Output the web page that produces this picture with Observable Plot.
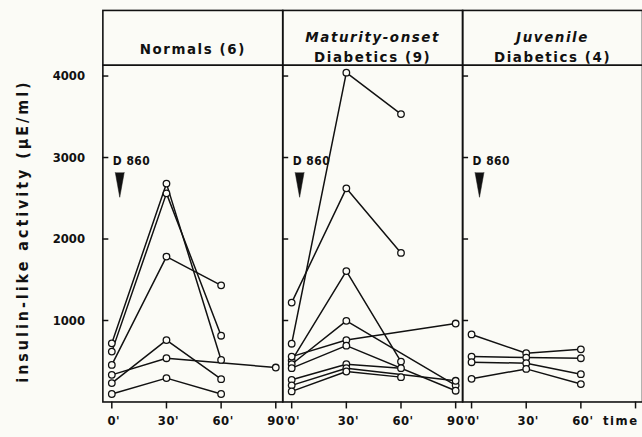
<!DOCTYPE html>
<html><head><meta charset="utf-8">
<script src="https://cdn.jsdelivr.net/npm/d3@7"></script>
<script src="https://cdn.jsdelivr.net/npm/@observablehq/plot@0.6"></script>
<style>
html,body{margin:0;padding:0;background:#fbfbf6;overflow:hidden}
svg text{font-family:"DejaVu Sans Condensed","Liberation Sans Narrow","DejaVu Sans",sans-serif;}
</style></head><body><div id="chart"></div>
<script>
// ---- data ----
const groups = ["Normals", "Maturity-onset", "Juvenile"];
const headerLine1 = ["Normals (6)", "Maturity-onset", "Juvenile"];
const headerLine2 = ["", "Diabetics (9)", "Diabetics (4)"];
const times = [0, 30, 60, 90];
const timeLabels = ["0'", "30'", "60'", "90'"];
const timeAxisLabel = "time";
const yTicks = [1000, 2000, 3000, 4000];
const yLabel = "insulin-like activity (µE/ml)";
const drugLabel = "D 860";
const drugTime = 0;
const drugLevel = 3000;
const headerBoundary = 4134; // top of the data area (header box below this is the frame)
// values per patient at 0', 30', 60', 90' (null = not measured)
const normals = [
  [720, 2680, 516, null],
  [618, 2560, 813, null],
  [455, 1784, 1431, null],
  [232, 760, 280, null],
  [333, 537, null, 423],
  [98, 293, 98, null]
];
const maturityOnset = [
  [715, 4041, 3533, null],
  [1220, 2622, 1829, null],
  [508, 1606, 496, null],
  [463, 996, null, 204],
  [557, 760, null, 963],
  [415, 691, null, 138],
  [272, 463, 415, null],
  [204, 415, null, 260],
  [130, 374, 305, null]
];
const juvenile = [
  [829, 598, 646, null],
  [557, 545, 537, null],
  [488, 476, 341, null],
  [284, 406, 220, null]
];

// ---- tables ----
const series = [normals, maturityOnset, juvenile];
const points = [];
series.forEach((pats, gi) => pats.forEach((vals, pi) => vals.forEach((v, ti) => {
  if (v != null) points.push({group: groups[gi], id: gi + "-" + pi, t: times[ti], v});
})));
const headers = groups.map((g, i) => ({group: g, l1: headerLine1[i], l2: headerLine2[i]}));
const xLabels = [];
groups.forEach((g, gi) => times.forEach((t, ti) => {
  if (!(gi === groups.length - 1 && ti === times.length - 1)) xLabels.push({group: g, t, label: timeLabels[ti]});
}));
const timeLabelRow = [{group: groups[groups.length - 1], t: times[times.length - 1], label: timeAxisLabel}];
const drug = groups.map(g => ({group: g, t: drugTime, v: drugLevel}));
const ink = "#111";
const bg = "#fbfbf6";

const chart = Plot.plot({
  width: 646,
  height: 437,
  marginLeft: 102,
  marginRight: 0,
  marginTop: 10,
  marginBottom: 33,
  style: {background: bg, color: ink, fontFamily: '"DejaVu Sans Condensed","Liberation Sans Narrow","DejaVu Sans",sans-serif'},
  fx: {domain: groups, padding: 0, axis: null, label: null},
  x: {domain: [0, 90], insetLeft: 9, insetRight: 7, axis: null},
  y: {domain: [0, 4805], axis: null},
  marks: [
    Plot.frame({stroke: ink, strokeWidth: 1.6}),
    Plot.ruleY([headerBoundary], {stroke: ink, strokeWidth: 1.6}),
    // y ticks inward in every panel
    Plot.axisY({ticks: yTicks, tickSize: -6, tickFormat: () => "", label: null, facetAnchor: null, strokeWidth: 1.5}),
    // y tick labels only on the left
    Plot.axisY({ticks: yTicks, tickSize: 0, tickPadding: 18, label: null, fontSize: 13, fontWeight: "bold", tickFormat: d => String(d)}),
    // x ticks
    Plot.axisX({ticks: times, tickSize: 7, tickFormat: () => "", label: null, strokeWidth: 1.5}),
    Plot.text(xLabels, {fx: "group", x: "t", text: "label", frameAnchor: "bottom", dy: 23, dx: 2, fontSize: 13, fontWeight: "bold"}),
    Plot.text(timeLabelRow, {fx: "group", x: "t", text: "label", frameAnchor: "bottom", dy: 23, dx: 3, textAnchor: "end", fontSize: 13, fontWeight: "bold"}),
    // y label
    Plot.text([{group: groups[0]}], {fx: "group", frameAnchor: "left", textAnchor: "middle", text: () => yLabel, rotate: -90, dx: -80, dy: 25, fontSize: 16, fontWeight: "bold"}),
    // headers
    Plot.text(headers.filter(d => !d.l2), {fx: "group", text: "l1", frameAnchor: "top", dy: 33, fontSize: 15, fontWeight: "bold"}),
    Plot.text(headers.filter(d => d.l2), {fx: "group", text: "l1", frameAnchor: "top", dy: 21, fontSize: 15, fontWeight: "bold", fontStyle: "italic"}),
    Plot.text(headers.filter(d => d.l2), {fx: "group", text: "l2", frameAnchor: "top", dy: 41, fontSize: 15, fontWeight: "bold"}),
    // drug injection marker
    Plot.text(drug, {fx: "group", x: "t", y: "v", text: () => drugLabel, textAnchor: "start", dx: 1, dy: 4, fontSize: 12, fontWeight: "bold"}),
    Plot.vector(drug, {fx: "group", x: "t", y: "v", shape: "spike", anchor: "start", length: 25, r: 4.5, rotate: 180, dx: 8, dy: 15, fill: ink, stroke: ink, strokeWidth: 0.5}),
    // data
    Plot.line(points, {fx: "group", x: "t", y: "v", z: "id", stroke: ink, strokeWidth: 1.5}),
    Plot.dot(points, {fx: "group", x: "t", y: "v", r: 3.3, fill: bg, stroke: ink, strokeWidth: 1.3})
  ]
});
// letter spacing (typeset look of the original lettering)
const spacing = new Map([[yLabel, "3px"], [timeAxisLabel, "1.5px"], [drugLabel, "0.5px"]]);
headerLine1.concat(headerLine2).forEach(s => { if (s) spacing.set(s, "1.6px"); });
timeLabels.forEach(s => spacing.set(s, "0.5px"));
d3.select(chart).selectAll("text").each(function () {
  const s = spacing.get(this.textContent);
  if (s) this.style.letterSpacing = s;
});
document.getElementById("chart").appendChild(chart);
</script></body></html>
